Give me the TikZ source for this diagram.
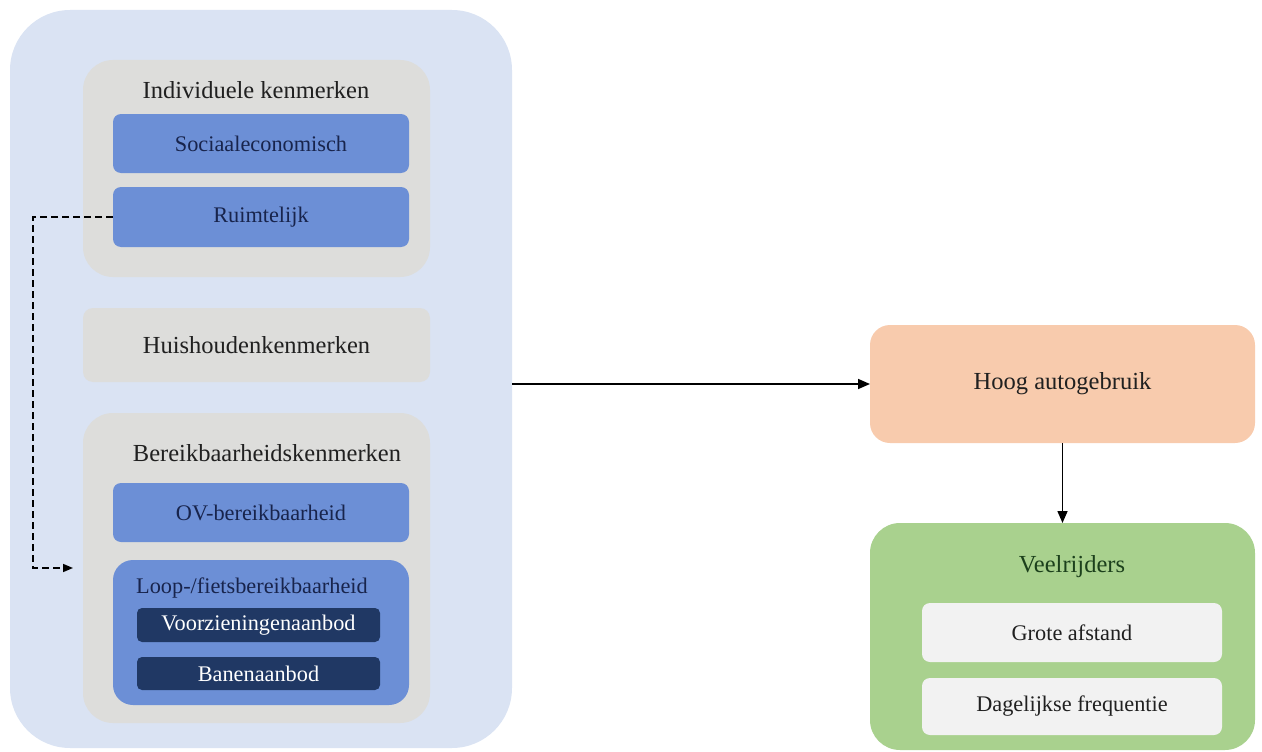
\documentclass[tikz,border=0pt]{standalone}
\usepackage{fontspec}
\setmainfont{Liberation Serif}
\usetikzlibrary{arrows.meta}
\definecolor{bigbg}{RGB}{218,227,243}
\definecolor{grayb}{RGB}{221,221,219}
\definecolor{midblue}{RGB}{108,143,214}
\definecolor{navy}{RGB}{32,56,100}
\definecolor{navytext}{RGB}{24,36,76}
\definecolor{orangeb}{RGB}{248,203,173}
\definecolor{greenb}{RGB}{169,209,142}
\definecolor{greentext}{RGB}{28,64,28}
\definecolor{lightb}{RGB}{242,242,242}
\definecolor{darktext}{RGB}{32,32,32}
\newcommand{\titlefont}{\fontsize{24.5}{28}\selectfont}
\newcommand{\innerfont}{\fontsize{22.3}{26}\selectfont}
\tikzset{
  box/.style={draw=none, inner sep=0pt, outer sep=0pt},
  bigbox/.style={box, fill=bigbg, rounded corners=60pt},
  graybox/.style={box, fill=grayb, rounded corners=30pt},
  bluebox/.style={box, fill=midblue, rounded corners=8pt, font=\innerfont, text=navytext},
  navybox/.style={box, fill=navy, rounded corners=5pt, font=\innerfont, text=white},
  lightbox/.style={box, fill=lightb, rounded corners=8pt, font=\innerfont, text=darktext},
  ttl/.style={font=\titlefont, text=darktext, inner sep=0pt},
  conn/.style={line width=1.6pt, -{Triangle[length=12pt,width=10pt]}},
}
\begin{document}
\begin{tikzpicture}[x=1pt,y=-1pt]
\useasboundingbox (0,0) rectangle (1262,752);
% left container
\node[bigbox, minimum width=502pt, minimum height=738pt] (big) at (261,379) {};
\node[graybox, minimum width=347pt, minimum height=217pt] (indiv) at (256.5,168.5) {};
\node[ttl] (indivt) at (256,90) {Individuele kenmerken};
\node[bluebox, minimum width=296pt, minimum height=59pt] (soc) at (261,143.5) {Sociaaleconomisch};
\node[bluebox, minimum width=296pt, minimum height=60pt] (ruim) at (261,217) {Ruimtelijk};
\node[graybox, rounded corners=10pt, minimum width=347pt, minimum height=74pt, font=\titlefont, text=darktext] (huis) at (256.5,345) {Huishoudenkenmerken};
\node[graybox, minimum width=347pt, minimum height=310pt] (bereik) at (256.5,568) {};
\node[ttl] (bereikt) at (267,453) {Bereikbaarheidskenmerken};
\node[bluebox, minimum width=296pt, minimum height=59pt] (ov) at (261,512.5) {OV-bereikbaarheid};
\node[bluebox, rounded corners=20pt, minimum width=296pt, minimum height=145pt] (loop) at (261,632.5) {};
\node[inner sep=0pt, font=\innerfont, text=navytext] (loopt) at (252,588) {Loop-/fietsbereikbaarheid};
\node[navybox, minimum width=243pt, minimum height=34pt] (voor) at (258.5,625) {Voorzieningenaanbod};
\node[navybox, minimum width=243pt, minimum height=33pt] (banen) at (258.5,673.5) {Banenaanbod};
% right side
\node[box, fill=orangeb, rounded corners=20pt, minimum width=385pt, minimum height=118pt, font=\titlefont, text=darktext] (hoog) at (1062.5,384) {Hoog autogebruik};
\node[box, fill=greenb, rounded corners=30pt, minimum width=385pt, minimum height=227pt] (veel) at (1062.5,636.5) {};
\node[ttl, text=greentext] (veelt) at (1072,567) {Veelrijders};
\node[lightbox, minimum width=300pt, minimum height=59pt] (grote) at (1072,632.5) {Grote afstand};
\node[lightbox, minimum width=300pt, minimum height=57pt] (dag) at (1072,706.5) {Dagelijkse frequentie};
% connectors
\coordinate (dl) at (33,217);
\draw[line width=1.5pt, dash pattern=on 7pt off 4pt, -{Triangle[length=10pt,width=8pt]}]
  (ruim.west) -- (dl) |- ([xshift=-10pt]bereik.west);
\draw[conn] (hoog.west -| big.east) -- (hoog.west);
\draw[conn] (hoog.south) -- (veel.north);
\end{tikzpicture}
\end{document}
